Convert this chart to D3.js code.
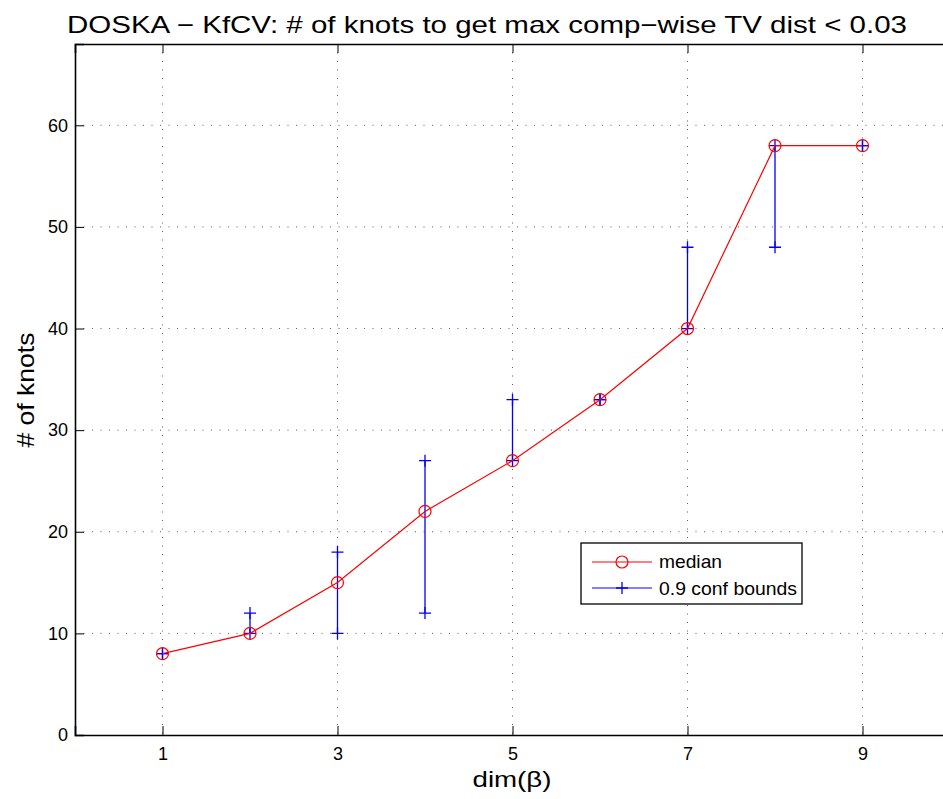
<!DOCTYPE html>
<html>
<head>
<meta charset="utf-8">
<script src="https://cdn.jsdelivr.net/npm/d3@7"></script>
<style>
  body { margin: 0; background: #fff; }
  svg { display: block; font-family: "Liberation Sans", Arial, sans-serif; }
</style>
</head>
<body>
<div id="chart"></div>
<script>
// data
var dims    = [1, 2, 3, 4, 5, 6, 7, 8, 9];
var medians = [8, 10, 15, 22, 27, 33, 40, 58, 58];
var lower   = [8, 10, 10, 12, 27, 33, 40, 48, 58];
var upper   = [8, 12, 18, 27, 33, 33, 48, 58, 58];
var xTicks  = [1, 3, 5, 7, 9];
var yTicks  = [0, 10, 20, 30, 40, 50, 60];

var margin = {top: 44, left: 75},
    width = 875,
    height = 691;

var svg = d3.select("#chart").append("svg")
    .attr("width", 943)
    .attr("height", 799);

var g = svg.append("g")
    .attr("transform", "translate(" + margin.left + "," + margin.top + ")");

var x = d3.scaleLinear().domain([0, 10]).range([0, width]);
var y = d3.scaleLinear().domain([0, 68]).range([height, 0]);

// grid
g.selectAll(".vgrid").data(xTicks).enter().append("line")
    .attr("x1", d => x(d)).attr("x2", d => x(d))
    .attr("y1", 0).attr("y2", height)
    .attr("stroke", "#333").attr("stroke-width", 0.8)
    .attr("stroke-dasharray", "1,7.5");
g.selectAll(".hgrid").data(yTicks.slice(1)).enter().append("line")
    .attr("x1", 0).attr("x2", width)
    .attr("y1", d => y(d)).attr("y2", d => y(d))
    .attr("stroke", "#333").attr("stroke-width", 0.8)
    .attr("stroke-dasharray", "1,7.5");

// axes (inward ticks, matlab style)
var xAxis = g.append("g")
    .attr("transform", "translate(0," + height + ")")
    .call(d3.axisBottom(x).tickValues(xTicks).tickSize(-9).tickPadding(12).tickFormat(d3.format("d")));
var xTop = g.append("g")
    .call(d3.axisTop(x).tickValues(xTicks).tickSize(-9).tickFormat(""));
var yAxis = g.append("g")
    .call(d3.axisLeft(y).tickValues(yTicks).tickSize(-9).tickPadding(7));

[xAxis, xTop, yAxis].forEach(function(a) {
  a.select(".domain").attr("stroke", "#000").attr("stroke-width", 1.6);
  a.selectAll(".tick line").attr("stroke", "#000").attr("stroke-width", 1);
  a.selectAll("text").attr("font-size", 18).attr("fill", "#000")
    .attr("font-family", "Liberation Sans, Arial, sans-serif");
});

// error bars
var bars = g.append("g");
dims.forEach(function(d, i) {
  bars.append("line")
    .attr("x1", x(d)).attr("x2", x(d))
    .attr("y1", y(lower[i])).attr("y2", y(upper[i]))
    .attr("stroke", "#0000ff").attr("stroke-width", 1.3);
  [lower[i], upper[i]].forEach(function(v) {
    bars.append("path")
      .attr("d", "M" + (x(d) - 6) + "," + y(v) + "H" + (x(d) + 6) +
                 "M" + x(d) + "," + (y(v) - 6) + "V" + (y(v) + 6))
      .attr("stroke", "#0000ff").attr("stroke-width", 1.3).attr("fill", "none");
  });
});

// median line
var line = d3.line()
    .x(function(d, i) { return x(dims[i]); })
    .y(function(d) { return y(d); });
g.append("path")
    .datum(medians)
    .attr("d", line)
    .attr("stroke", "#ff0000").attr("stroke-width", 1.2).attr("fill", "none");
g.selectAll(".med").data(medians).enter().append("circle")
    .attr("cx", (d, i) => x(dims[i])).attr("cy", d => y(d))
    .attr("r", 6)
    .attr("stroke", "#ff0000").attr("stroke-width", 1.2).attr("fill", "none");

// legend
var lg = svg.append("g").attr("transform", "translate(581,543)");
lg.append("rect").attr("width", 221).attr("height", 61)
    .attr("fill", "#fff").attr("stroke", "#000").attr("stroke-width", 1.3);
lg.append("line").attr("x1", 11).attr("x2", 71).attr("y1", 19).attr("y2", 19)
    .attr("stroke", "#ff0000").attr("stroke-width", 1.2);
lg.append("circle").attr("cx", 41).attr("cy", 19).attr("r", 6)
    .attr("stroke", "#ff0000").attr("stroke-width", 1.2).attr("fill", "none");
lg.append("line").attr("x1", 11).attr("x2", 71).attr("y1", 45).attr("y2", 45)
    .attr("stroke", "#0000ff").attr("stroke-width", 1.2);
lg.append("path").attr("d", "M35,45H47M41,39V51")
    .attr("stroke", "#0000ff").attr("stroke-width", 1.3);
lg.append("text").attr("x", 78).attr("y", 25).attr("font-size", 18.5)
    .attr("textLength", 63).attr("lengthAdjust", "spacingAndGlyphs").text("median");
lg.append("text").attr("x", 78).attr("y", 52).attr("font-size", 18.5)
    .attr("textLength", 138).attr("lengthAdjust", "spacingAndGlyphs").text("0.9 conf bounds");

// titles
svg.append("text")
    .attr("x", 487).attr("y", 33)
    .attr("text-anchor", "middle").attr("font-size", 24)
    .attr("textLength", 840).attr("lengthAdjust", "spacingAndGlyphs")
    .text("DOSKA \u2212 KfCV: # of knots to get max comp\u2212wise TV dist < 0.03");
svg.append("text")
    .attr("x", 512).attr("y", 787)
    .attr("text-anchor", "middle").attr("font-size", 22)
    .attr("textLength", 79).attr("lengthAdjust", "spacingAndGlyphs")
    .text("dim(\u03b2)");
svg.append("text")
    .attr("transform", "translate(34,390) rotate(-90)")
    .attr("text-anchor", "middle").attr("font-size", 24)
    .attr("textLength", 115).attr("lengthAdjust", "spacingAndGlyphs")
    .text("# of knots");
</script>
</body>
</html>
